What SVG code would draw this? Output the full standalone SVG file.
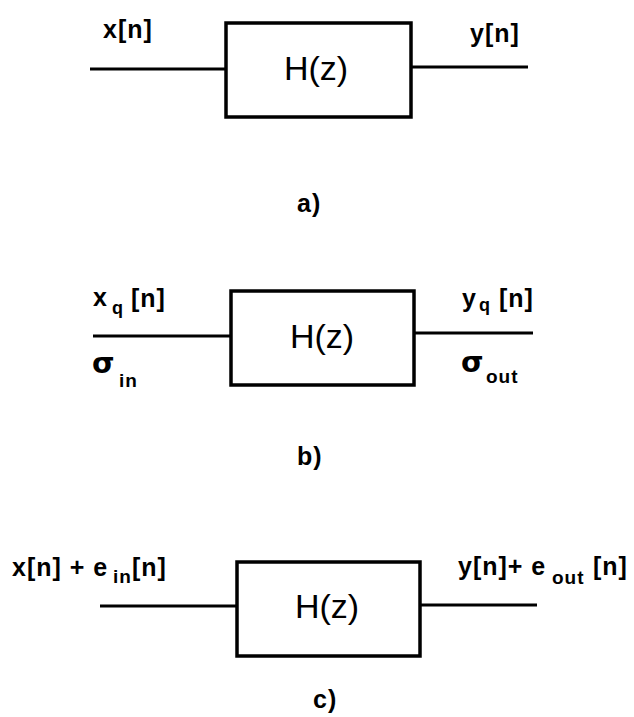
<svg xmlns="http://www.w3.org/2000/svg" width="634" height="717" viewBox="0 0 634 717">
<style>
.box{fill:#fff;stroke:#000;stroke-width:3.5}
.wire{stroke:#000;stroke-width:3.2;fill:none}
.hz{font-family:"Liberation Sans",Arial,sans-serif;font-size:34px;fill:#000;text-anchor:middle}
.lbl{font-family:"Liberation Sans",Arial,sans-serif;font-weight:bold;font-size:25px;letter-spacing:1px;fill:#000}
.sub{font-family:"Liberation Sans",Arial,sans-serif;font-weight:bold;font-size:19px;letter-spacing:1px;fill:#000}
.sig{font-family:"DejaVu Sans",Verdana,sans-serif;font-weight:bold;font-size:29px;fill:#000}
</style>
<rect width="634" height="717" fill="#fff"/>
<g id="connectors">
  <line class="wire" x1="90" y1="69" x2="226" y2="69"/>
  <line class="wire" x1="411" y1="67" x2="528" y2="67"/>
  <line class="wire" x1="93" y1="336" x2="231" y2="336"/>
  <line class="wire" x1="414" y1="333" x2="533" y2="333"/>
  <line class="wire" x1="100" y1="606" x2="237" y2="606"/>
  <line class="wire" x1="420" y1="605" x2="537" y2="605"/>
</g>
<g id="node-a">
  <rect class="box" x="226" y="23" width="185" height="94"/>
  <text class="hz" x="316" y="80">H(z)</text>
</g>
<g id="labels-a">
  <text class="lbl" x="103" y="38">x[n]</text>
  <text class="lbl" x="470" y="42">y[n]</text>
  <text class="lbl" x="297" y="212">a)</text>
</g>
<g id="node-b">
  <rect class="box" x="231" y="291" width="183" height="94"/>
  <text class="hz" x="322" y="348">H(z)</text>
</g>
<g id="labels-b">
  <text class="lbl" x="93" y="306">x</text>
  <text class="sub" x="112" y="314" style="font-size:18px">q</text>
  <text class="lbl" x="131" y="307">[n]</text>
  <text class="lbl" x="462" y="307">y</text>
  <text class="sub" x="479" y="311" style="font-size:18px">q</text>
  <text class="lbl" x="499" y="307">[n]</text>
  <text class="sig" x="92" y="373">σ</text>
  <text class="sub" x="119" y="387">in</text>
  <text class="sig" x="461" y="372">σ</text>
  <text class="sub" x="486" y="383">out</text>
  <text class="lbl" x="297" y="465">b)</text>
</g>
<g id="node-c">
  <rect class="box" x="237" y="562" width="183" height="94"/>
  <text class="hz" x="327" y="618">H(z)</text>
</g>
<g id="labels-c">
  <text class="lbl" x="12" y="576">x[n] + e</text>
  <text class="sub" x="113" y="583">in</text>
  <text class="lbl" x="132" y="576">[n]</text>
  <text class="lbl" x="458" y="575">y[n]+ e</text>
  <text class="sub" x="552" y="584">out</text>
  <text class="lbl" x="593" y="575">[n]</text>
  <text class="lbl" x="313" y="708">c)</text>
</g>
</svg>
